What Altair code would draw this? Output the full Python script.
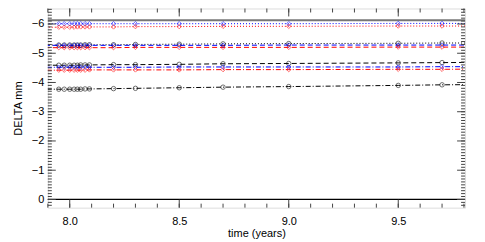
import altair as alt
import pandas as pd

# sample times (years)
times = [7.85, 7.95, 7.975, 8.0, 8.02, 8.035, 8.05, 8.07, 8.09, 8.2, 8.3, 8.5, 8.7, 9.0, 9.5, 9.7, 9.9]

blue_dot  = [-6.01, -6.01, -6.01, -6.01, -6.01, -6.01, -6.01, -6.01, -6.01, -6.01, -6.01, -6.01, -6.01, -6.01, -6.02, -6.02, -6.02]
red_dot   = [-5.89, -5.89, -5.89, -5.89, -5.89, -5.90, -5.90, -5.90, -5.90, -5.90, -5.91, -5.91, -5.92, -5.92, -5.93, -5.93, -5.93]
black_dot = [-5.28, -5.28, -5.28, -5.28, -5.28, -5.28, -5.28, -5.29, -5.29, -5.29, -5.30, -5.31, -5.32, -5.33, -5.34, -5.35, -5.35]
blue_dash = [-5.27, -5.27, -5.27, -5.27, -5.27, -5.27, -5.27, -5.27, -5.27, -5.27, -5.27, -5.27, -5.27, -5.28, -5.28, -5.28, -5.28]
red_dash  = [-5.19, -5.19, -5.19, -5.19, -5.19, -5.19, -5.19, -5.19, -5.19, -5.19, -5.20, -5.20, -5.20, -5.20, -5.21, -5.21, -5.21]
black_dash = [-4.59, -4.59, -4.59, -4.59, -4.59, -4.59, -4.60, -4.60, -4.60, -4.61, -4.61, -4.62, -4.64, -4.65, -4.67, -4.68, -4.69]
blue_dd   = [-4.52, -4.52, -4.52, -4.52, -4.52, -4.52, -4.52, -4.52, -4.52, -4.52, -4.52, -4.53, -4.53, -4.53, -4.53, -4.54, -4.54]
red_dd    = [-4.42, -4.42, -4.42, -4.42, -4.42, -4.42, -4.42, -4.42, -4.43, -4.43, -4.43, -4.43, -4.44, -4.44, -4.45, -4.45, -4.46]
black_dd  = [-3.77, -3.77, -3.77, -3.77, -3.77, -3.77, -3.77, -3.78, -3.78, -3.79, -3.80, -3.82, -3.84, -3.86, -3.90, -3.92, -3.93]

series_names = ["blue_dot", "red_dot", "black_dot", "blue_dash", "red_dash",
                "black_dash", "blue_dd", "red_dd", "black_dd"]
series_vals = [blue_dot, red_dot, black_dot, blue_dash, red_dash,
               black_dash, blue_dd, red_dd, black_dd]
series_colors = ["#0000ff", "#ff0000", "#000000", "#0000ff", "#ff0000",
                 "#000000", "#0000ff", "#ff0000", "#000000"]
series_dash = [[1, 2], [1, 2], [1, 2], [5, 3], [5, 3], [5, 3],
               [5, 2, 1, 2], [5, 2, 1, 2], [5, 2, 1, 2]]
series_shape = ["diamond", "diamond", "circle", "diamond", "diamond",
                "circle", "diamond", "diamond", "circle"]

# reference horizontal levels
zero_level = [0.0, 0.0]
top_level = [-6.13, -6.13]
ref_times = [7.8, 9.9]

x_major = [8.0, 8.5, 9.0, 9.5]
x_minor = [round(7.9 + 0.1 * i, 2) for i in range(20)]
y_major = [0, -1, -2, -3, -4, -5, -6]
y_minor = [round(0.2 - 0.1 * i, 2) for i in range(68)]

rows = []
for name, vals in zip(series_names, series_vals):
    for t, v in zip(times, vals):
        rows.append({"t": t, "v": v, "s": name})
df = pd.DataFrame(rows)

zero_df = pd.DataFrame({"t": ref_times, "v": zero_level})
top_df = pd.DataFrame({"t": ref_times, "v": top_level})
xmaj_df = pd.DataFrame({"t": x_major})
xmin_df = pd.DataFrame({"t": x_minor})
ymaj_df = pd.DataFrame({"v": y_major})
ymin_df = pd.DataFrame({"v": y_minor})

W, H = 419, 200
FONT = "Liberation Sans"
TICKC = "#444444"
x_scale = alt.Scale(domain=[7.9, 9.805], nice=False, zero=False)
y_scale = alt.Scale(domain=[0.28, -6.53], nice=False, zero=False)

col = alt.Color("s:N", scale=alt.Scale(domain=series_names, range=series_colors), legend=None)
dash = alt.StrokeDash("s:N", scale=alt.Scale(domain=series_names, range=series_dash), legend=None)
shp = alt.Shape("s:N", scale=alt.Scale(domain=series_names, range=series_shape), legend=None)

x_axis = alt.Axis(
    orient="bottom", values=x_major, format=".1f", ticks=False, domain=False, grid=False,
    labelFont=FONT, labelFontSize=11, labelColor="#000", labelPadding=8, labelOverlap=False,
    title="time  (years)", titleFont=FONT, titleFontSize=11, titleFontWeight="normal",
    titleColor="#000", titlePadding=1)
y_axis = alt.Axis(
    orient="left", values=y_major, format="d", ticks=False, domain=False, grid=False,
    labelFont=FONT, labelFontSize=11, labelColor="#000", labelPadding=4, labelOverlap=False,
    title="DELTA mm", titleFont=FONT, titleFontSize=11, titleFontWeight="normal",
    titleColor="#000", titlePadding=8)

xs = alt.X("t:Q", scale=x_scale, axis=x_axis)
ys = alt.Y("v:Q", scale=y_scale, axis=y_axis)

lines = alt.Chart(df).mark_line(strokeWidth=1, clip=True).encode(
    x=xs, y=ys, color=col, strokeDash=dash, detail="s:N")
points = alt.Chart(df).mark_point(filled=False, size=20, strokeWidth=0.8, clip=True).encode(
    x=xs, y=ys, color=col, shape=shp)
zero_line = alt.Chart(zero_df).mark_line(clip=True, color="#000000", strokeWidth=1.2).encode(x=xs, y=ys)
top_line = alt.Chart(top_df).mark_line(clip=True, color="#777777", strokeWidth=2).encode(x=xs, y=ys)


def xticks(data, length):
    bot = alt.Chart(data).mark_rule(color=TICKC, strokeWidth=1).encode(
        x=xs, y=alt.value(H), y2=alt.value(H - length))
    top = alt.Chart(data).mark_rule(color=TICKC, strokeWidth=1).encode(
        x=xs, y=alt.value(0), y2=alt.value(length))
    return [bot, top]


def yticks(data, length):
    left = alt.Chart(data).mark_rule(color=TICKC, strokeWidth=1).encode(
        y=ys, x=alt.value(0), x2=alt.value(length))
    right = alt.Chart(data).mark_rule(color=TICKC, strokeWidth=1).encode(
        y=ys, x=alt.value(W), x2=alt.value(W - length))
    return [left, right]


tick_layers = xticks(xmaj_df, 8) + xticks(xmin_df, 4) + yticks(ymaj_df, 8) + yticks(ymin_df, 4)

chart = alt.layer(lines, zero_line, top_line, points, *tick_layers).properties(
    width=W, height=H,
    autosize=alt.AutoSizeParams(type="none"),
    padding={"left": 40, "top": 0, "right": 12, "bottom": 32},
).configure_view(stroke="#333", strokeWidth=1.5).configure(background="white")

chart.save("out.html", embed_options={"renderer": "svg", "actions": False})
